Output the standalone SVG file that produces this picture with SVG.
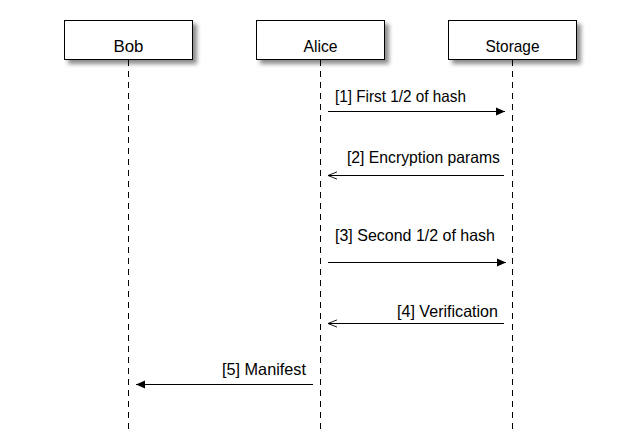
<svg xmlns="http://www.w3.org/2000/svg" width="640" height="438" viewBox="0 0 640 438">
  <defs>
    <filter id="shadow" x="-10%" y="-20%" width="130%" height="160%">
      <feDropShadow dx="4" dy="4" stdDeviation="2" flood-color="#000" flood-opacity="0.45"/>
    </filter>
    <marker id="filled" viewBox="0 0 10 10" refX="10" refY="5" markerWidth="9" markerHeight="9" markerUnits="userSpaceOnUse" orient="auto">
      <path d="M0,0.5 L10,5 L0,9.5 Z" fill="#000"/>
    </marker>
    <marker id="open" viewBox="0 0 10 10" refX="10" refY="5" markerWidth="9" markerHeight="9" markerUnits="userSpaceOnUse" orient="auto">
      <path d="M0,1 L10,5 L0,9" fill="none" stroke="#000" stroke-width="1"/>
    </marker>
  </defs>
  <style>
    .box { fill: #fff; stroke: #000; stroke-width: 1; filter: url(#shadow); }
    .name { font-family: "Liberation Sans", Arial, sans-serif; font-size: 17px; text-anchor: middle; fill: #000; }
    .life { stroke: #000; stroke-width: 1; stroke-dasharray: 6 5; fill: none; }
    .msg { stroke: #000; stroke-width: 1; fill: none; }
    .lbl { font-family: "Liberation Sans", Arial, sans-serif; font-size: 16.5px; fill: #000; }
  </style>
  <rect width="640" height="438" fill="#fff"/>

  <g id="lifelines">
    <line class="life" x1="128.5" y1="60" x2="128.5" y2="432"/>
    <line class="life" x1="320.5" y1="60" x2="320.5" y2="432"/>
    <line class="life" x1="512.5" y1="60" x2="512.5" y2="432"/>
  </g>

  <g id="bob">
    <rect class="box" x="64.5" y="20.5" width="128" height="39"/>
    <text class="name" x="128.5" y="52" textLength="30" lengthAdjust="spacingAndGlyphs">Bob</text>
  </g>
  <g id="alice">
    <rect class="box" x="256.5" y="20.5" width="128" height="39"/>
    <text class="name" x="320.5" y="52" textLength="34" lengthAdjust="spacingAndGlyphs">Alice</text>
  </g>
  <g id="storage">
    <rect class="box" x="448.5" y="20.5" width="128" height="39"/>
    <text class="name" x="512.5" y="52" textLength="54" lengthAdjust="spacingAndGlyphs">Storage</text>
  </g>

  <g id="connectors">
    <line class="msg" x1="328" y1="111.5" x2="505" y2="111.5" marker-end="url(#filled)"/>
    <text class="lbl" x="335" y="102" textLength="131" lengthAdjust="spacingAndGlyphs">[1] First 1/2 of hash</text>

    <line class="msg" x1="504" y1="175.5" x2="328" y2="175.5" marker-end="url(#open)"/>
    <text class="lbl" x="347" y="163" textLength="153" lengthAdjust="spacingAndGlyphs">[2] Encryption params</text>

    <line class="msg" x1="328" y1="262.5" x2="506" y2="262.5" marker-end="url(#filled)"/>
    <text class="lbl" x="335" y="241" textLength="160" lengthAdjust="spacingAndGlyphs">[3] Second 1/2 of hash</text>

    <line class="msg" x1="504" y1="323.5" x2="328" y2="323.5" marker-end="url(#open)"/>
    <text class="lbl" x="397" y="317" textLength="101" lengthAdjust="spacingAndGlyphs">[4] Verification</text>

    <line class="msg" x1="313" y1="384.5" x2="136" y2="384.5" marker-end="url(#filled)"/>
    <text class="lbl" x="222" y="375" textLength="84" lengthAdjust="spacingAndGlyphs">[5] Manifest</text>
  </g>
</svg>
